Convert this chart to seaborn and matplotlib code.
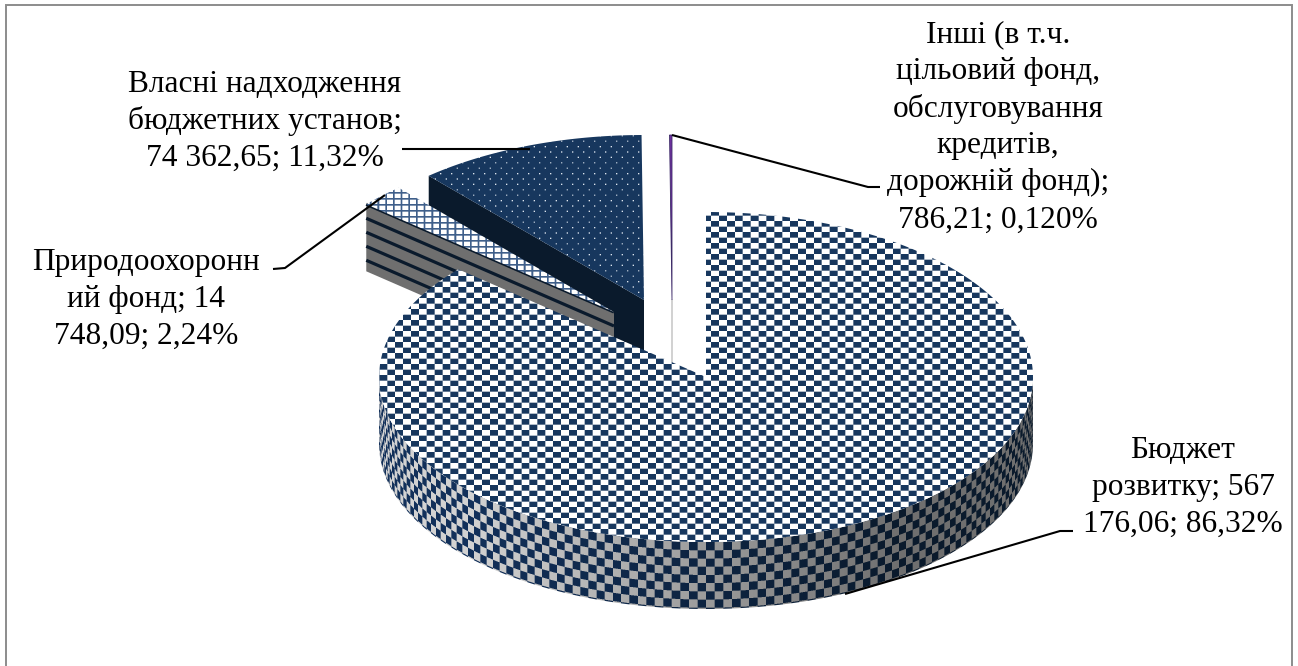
import numpy as np
import matplotlib
matplotlib.use("Agg")
import matplotlib.pyplot as plt
from matplotlib.patches import Polygon
import seaborn as sns

# values from the chart
categories = ["Бюджет розвитку", "Природоохоронний фонд", "Власні надходження бюджетних установ", "Інші"]
amounts = [567176.06, 14748.09, 74362.65, 786.21]
labels = [
    "Бюджет\nрозвитку; 567\n176,06; 86,32%",
    "Природоохоронн\nий фонд; 14\n748,09; 2,24%",
    "Власні надходження\nбюджетних установ;\n74 362,65; 11,32%",
    "Інші (в т.ч.\nцільовий фонд,\nобслуговування\nкредитів,\nдорожній фонд);\n786,21; 0,120%",
]

W, H = 1298, 666
NAVY, DARK, GREY = "#17375E", "#0A1A2C", "#6F6F6F"
PALE = "#FFFFFF"

sns.set_style("white")
plt.rcParams["font.family"] = ["Liberation Serif", "DejaVu Serif"]

# pie geometry in pixels
cx, cy, rx, ry, depth = 706, 377, 327, 165, 67
offsets = [(0, 0), (-92, -65), (-62, -77), (-34, -77)]
shares = np.array(amounts) / sum(amounts)
edges = np.concatenate([[0], np.cumsum(shares)]) * 2 * np.pi

fig = plt.figure(figsize=(W / 100, H / 100), dpi=100)
ax = fig.add_axes([0, 0, 1, 1])


def rgb(c):
    return np.array(sns.color_palette([c])[0])


def wedge_points(i):
    ax0, ay0 = cx + offsets[i][0], cy + offsets[i][1]
    t = np.linspace(edges[i], edges[i + 1], 200)
    return np.vstack([[ax0, ay0], np.c_[ax0 + rx * np.sin(t), ay0 - ry * np.cos(t)]])


def radial_wall(i, angle):
    ax0, ay0 = cx + offsets[i][0], cy + offsets[i][1]
    p = (ax0 + rx * np.sin(angle), ay0 - ry * np.cos(angle))
    return p, (ax0, ay0)


def soft_mask(mask_func):
    # texture drawn at 3x and averaged down, the original is a bit blurry
    ys, xs = np.mgrid[0:H * 3, 0:W * 3]
    mask = mask_func(xs / 3.0, ys / 3.0)
    return mask.reshape(H, 3, W, 3).mean(axis=(1, 3))[..., None]


def soft(mask_func, c0, c1):
    m = soft_mask(mask_func)
    return rgb(c0) * m + rgb(c1) * (1 - m)


def textured(points, tex, z):
    im = ax.imshow(tex, extent=(0, W, H, 0), interpolation="nearest", zorder=z, aspect="auto")
    patch = Polygon(points, closed=True, transform=ax.transData, fill=False, lw=0)
    ax.add_patch(patch)
    im.set_clip_path(patch)


checker = lambda x, y: (np.floor(x / 7.9) + np.floor((y - 1) / 5.5)) % 2 == 0
grid = lambda x, y: (x % 7.7 < 1.8) | (y % 6.0 < 1.6)
dots = lambda x, y: ((y % 10.8 < 1.2) & (x % 11 < 1.2)) | (((y + 5.4) % 10.8 < 1.2) & ((x + 5.5) % 11 < 1.2))


def wall_check(x, y):
    s = np.clip((x - cx) / rx, -1, 1)
    top = cy + ry * np.sqrt(1 - s ** 2)
    return (np.floor(np.arcsin(s) * rx / 8.6) + np.floor((y - top) / 8.2)) % 2 == 0


def wall_texture():
    # side of the pie gets darker from left to right
    m = soft_mask(wall_check)
    f = np.clip((np.arange(W) - 470) / 430, 0, 1)[None, :, None]
    light = rgb("#D2D2D2") * (1 - f) + rgb(GREY) * f
    dark = rgb("#12305A") * (1 - f) + rgb(DARK) * f
    return dark * m + light * (1 - m)


# Інші - just a thin sliver
ox, oy = cx + offsets[3][0], cy + offsets[3][1]
ax.plot([ox, ox], [oy, oy + depth], color="#C9C9C9", lw=1.2, zorder=1)
ax.add_patch(Polygon(wedge_points(3), closed=True, fc="#7030A0", ec="#3B2A66", lw=0.6, zorder=2))

# власні надходження
p, a = radial_wall(2, edges[2])
wall = [p, a, (a[0], a[1] + depth), (p[0], p[1] + depth)]
ax.add_patch(Polygon(wall, closed=True, fc=DARK, ec="none", zorder=3))
textured(wedge_points(2), soft(dots, "#DDE5EE", NAVY), 4)

# природоохоронний фонд: striped wall + crosshatched top, sits in front of the previous one
p, a = radial_wall(1, edges[1])
wall = [p, a, (a[0], a[1] + depth), (p[0], p[1] + depth)]
ax.add_patch(Polygon(wall, closed=True, fc=GREY, ec="none", zorder=5))
for d in np.linspace(0, depth - 11, 5):
    ax.plot([p[0], a[0]], [p[1] + d, a[1] + d], color=DARK, lw=2.3, zorder=5, solid_capstyle="butt")
textured(wedge_points(1), soft(grid, "#3F5F8A", PALE), 6)

# бюджет розвитку: side wall, then the top face
t = np.linspace(np.pi / 2, 3 * np.pi / 2, 300)
arc = np.c_[cx + rx * np.sin(t), cy - ry * np.cos(t)]
textured(np.vstack([arc, (arc + [0, depth])[::-1]]), wall_texture(), 7)
textured(wedge_points(0), soft(checker, NAVY, PALE), 8)

# leader lines
leaders = [
    ([1073, 1060, 845], [531, 531, 594]),
    ([273, 285, 385], [269, 268, 195]),
    ([402, 530], [149, 149]),
    ([672, 868, 880], [135, 187, 187]),
]
for xs, ys in leaders:
    ax.plot(xs, ys, color="black", lw=1.5, zorder=9, solid_capstyle="butt")

# data labels, one text per line because spacing is fixed in the original
label_pos = [(1183, 450), (146, 262.5), (265, 84), (998, 34.5)]
for lab, (lx, ly) in zip(labels, label_pos):
    for j, line in enumerate(lab.split("\n")):
        ax.text(lx, ly + j * 37.1, line, ha="center", va="center", fontsize=22.6, color="black", zorder=10)

# chart frame, the bottom edge is cut off in the original
ax.plot([6, 6, 1292, 1292], [H, 5, 5, H], color="#8C8C8C", lw=1.4, zorder=0, solid_joinstyle="miter")
ax.set_xlim(0, W)
ax.set_ylim(H, 0)
ax.axis("off")
fig.savefig("out.png", dpi=100)
